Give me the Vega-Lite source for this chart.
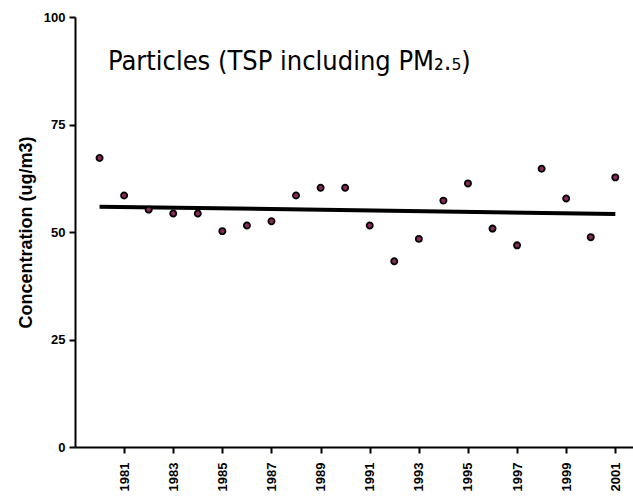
{
  "$schema": "https://vega.github.io/schema/vega-lite/v6.json",
  "autosize": {"type": "none"},
  "padding": {"left": 75, "top": 17, "right": 0, "bottom": 49},
  "width": 558,
  "height": 430,
  "background": "white",
  "config": {
    "view": {"stroke": null},
    "axis": {
      "grid": false,
      "domainColor": "black",
      "domainWidth": 2,
      "tickColor": "black",
      "tickWidth": 2,
      "tickSize": 6,
      "labelColor": "black",
      "labelFont": "Liberation Sans",
      "labelFontWeight": "bold",
      "titleFont": "Liberation Sans",
      "titleFontWeight": "bold",
      "titleColor": "black"
    }
  },
  "title": {
    "text": "Particles (TSP including PM₂.₅)",
    "anchor": "start",
    "frame": "group",
    "font": "'DejaVu Sans Condensed', Roboto, 'Liberation Sans'",
    "fontSize": 27,
    "fontWeight": 500,
    "color": "black",
    "baseline": "alphabetic",
    "offset": 0,
    "dx": 33,
    "dy": 86
  },
  "datasets": {
    "points": [
      {"year": 1980, "value": 67.2},
      {"year": 1981, "value": 58.5},
      {"year": 1982, "value": 55.2},
      {"year": 1983, "value": 54.3},
      {"year": 1984, "value": 54.3},
      {"year": 1985, "value": 50.2},
      {"year": 1986, "value": 51.5},
      {"year": 1987, "value": 52.5},
      {"year": 1988, "value": 58.5},
      {"year": 1989, "value": 60.3},
      {"year": 1990, "value": 60.3},
      {"year": 1991, "value": 51.5},
      {"year": 1992, "value": 43.2},
      {"year": 1993, "value": 48.4},
      {"year": 1994, "value": 57.3},
      {"year": 1995, "value": 61.3},
      {"year": 1996, "value": 50.8},
      {"year": 1997, "value": 46.9},
      {"year": 1998, "value": 64.7},
      {"year": 1999, "value": 57.8},
      {"year": 2000, "value": 48.8},
      {"year": 2001, "value": 62.7}
    ],
    "trend": [
      {"year": 1980, "value": 55.9},
      {"year": 2001, "value": 54.2}
    ]
  },
  "layer": [
    {
      "data": {"name": "trend"},
      "mark": {"type": "line", "color": "black", "strokeWidth": 4, "clip": false},
      "encoding": {
        "x": {
          "field": "year",
          "type": "quantitative",
          "scale": {"domain": [1979, 2001.72], "nice": false, "zero": false},
          "axis": {
            "values": [1981, 1983, 1985, 1987, 1989, 1991, 1993, 1995, 1997, 1999, 2001],
            "format": "d",
            "labelAngle": -90,
            "labelAlign": "right",
            "labelBaseline": "middle",
            "labelFontSize": 13,
            "labelPadding": 9,
            "title": null
          }
        },
        "y": {
          "field": "value",
          "type": "quantitative",
          "scale": {"domain": [0, 100], "nice": false},
          "axis": {
            "values": [0, 25, 50, 75, 100],
            "labelFontSize": 13,
            "labelPadding": 4,
            "title": "Concentration (ug/m3)",
            "titleFontSize": 18,
            "titlePadding": 8
          }
        }
      }
    },
    {
      "data": {"name": "points"},
      "mark": {"type": "point", "shape": "circle", "filled": true, "fill": "#8b2a5a", "stroke": "black", "strokeWidth": 1.8, "size": 38, "opacity": 1},
      "encoding": {
        "x": {"field": "year", "type": "quantitative"},
        "y": {"field": "value", "type": "quantitative"}
      }
    }
  ]
}
